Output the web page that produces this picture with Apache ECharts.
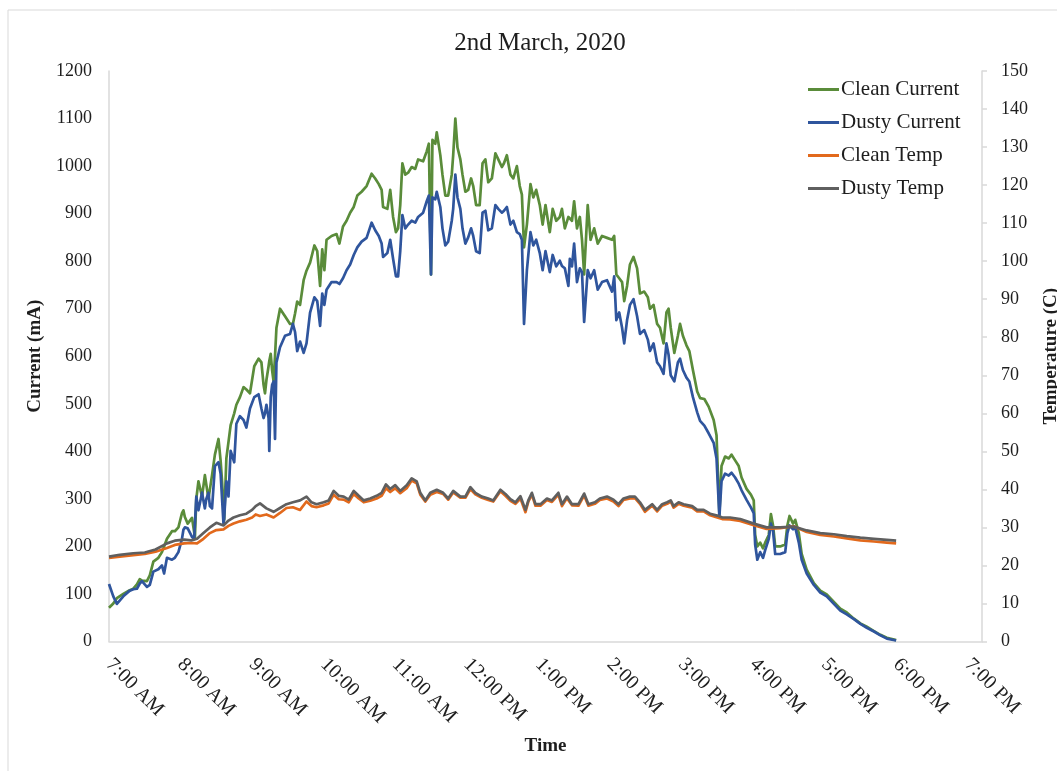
<!DOCTYPE html>
<html>
<head>
<meta charset="utf-8">
<title>2nd March, 2020</title>
<script src="https://cdn.jsdelivr.net/npm/echarts@6/dist/echarts.min.js"></script>
<style>
  html, body { margin: 0; padding: 0; background: #ffffff; overflow: hidden; }
  #chart { width: 1057px; height: 771px; }
</style>
</head>
<body>
<div id="chart"></div>
<script>
// Sample times (decimal hours) for the two current traces
const currentHours = [
  7.00, 7.06, 7.11, 7.20, 7.29, 7.34, 7.39, 7.43, 7.46, 7.53, 7.57, 7.62, 7.69, 7.74, 7.77, 7.81, 7.88, 7.92, 7.97,
  8.02, 8.04, 8.06, 8.10, 8.16, 8.19, 8.20, 8.22, 8.25, 8.30, 8.34, 8.36, 8.39, 8.41, 8.44, 8.48, 8.53, 8.56, 8.58,
  8.60, 8.61, 8.64, 8.67, 8.70, 8.75, 8.78, 8.83, 8.88, 8.92, 8.97, 9.03, 9.09, 9.13, 9.16, 9.18, 9.20, 9.23, 9.24,
  9.26, 9.28, 9.30, 9.32, 9.34, 9.39, 9.46, 9.53, 9.57, 9.60, 9.63, 9.67, 9.72, 9.76, 9.81, 9.87, 9.91, 9.95, 9.98,
  10.01, 10.04, 10.11, 10.18, 10.22, 10.27, 10.32, 10.37, 10.42, 10.47, 10.53, 10.60, 10.67, 10.72, 10.77, 10.81,
  10.83, 10.89, 10.93, 10.97, 11.01, 11.04, 11.07, 11.10, 11.14, 11.18, 11.23, 11.28, 11.32, 11.39, 11.44, 11.47,
  11.50, 11.52, 11.56, 11.58, 11.63, 11.66, 11.70, 11.74, 11.79, 11.81, 11.84, 11.87, 11.91, 11.94, 11.98, 12.02,
  12.06, 12.09, 12.13, 12.18, 12.22, 12.26, 12.30, 12.35, 12.40, 12.44, 12.49, 12.52, 12.56, 12.61, 12.65, 12.70,
  12.74, 12.77, 12.80, 12.84, 12.89, 12.93, 12.97, 13.02, 13.06, 13.10, 13.16, 13.20, 13.25, 13.30, 13.33, 13.37,
  13.42, 13.44, 13.47, 13.50, 13.54, 13.58, 13.61, 13.64, 13.69, 13.73, 13.78, 13.83, 13.89, 13.96, 14.03, 14.06,
  14.09, 14.13, 14.17, 14.20, 14.24, 14.28, 14.33, 14.38, 14.42, 14.48, 14.53, 14.56, 14.61, 14.66, 14.70, 14.75,
  14.79, 14.82, 14.85, 14.90, 14.95, 14.98, 15.02, 15.07, 15.11, 15.16, 15.22, 15.26, 15.32, 15.38, 15.45, 15.49,
  15.53, 15.56, 15.61, 15.66, 15.70, 15.75, 15.80, 15.84, 15.91, 15.97, 16.01, 16.03, 16.06, 16.10, 16.14, 16.17,
  16.22, 16.25, 16.28, 16.31, 16.38, 16.45, 16.48, 16.51, 16.56, 16.59, 16.64, 16.68, 16.75, 16.85, 16.94, 17.03,
  17.13, 17.22, 17.31, 17.41, 17.50, 17.59, 17.69, 17.78, 17.87, 18.00
];

// Clean panel current (mA)
const cleanCurrent = [
  71, 80, 91, 100, 108, 111, 120, 131, 128, 127, 139, 168, 176, 188, 200, 216, 232, 232, 240,
  270, 276, 262, 248, 260, 230, 216, 300, 337, 305, 350, 353, 300, 297, 350, 393, 426, 380, 337,
  280, 256, 385, 420, 455, 480, 498, 514, 535, 530, 522, 579, 595, 587, 540, 522, 550, 579, 590,
  605, 570, 547, 600, 660, 700, 684, 668, 668, 690, 715, 708, 760, 780, 797, 833, 821, 748, 825,
  781, 845, 853, 857, 837, 873, 885, 902, 914, 938, 946, 958, 984, 974, 962, 950,
  914, 910, 950, 893, 861, 869, 918, 1006, 982, 986, 998, 994, 1014, 1010, 1031, 1047,
  772, 1055, 1047, 1071, 1023, 982, 938, 938, 982, 1023, 1100, 1039, 1014, 982, 946, 950,
  974, 958, 918, 918, 1006, 1014, 966, 974, 1027, 1014, 998, 1006, 1023, 982, 974, 1000,
  958, 940, 829, 877, 962, 934, 950, 918, 877, 918, 861, 910, 885, 893, 910, 869,
  893, 890, 885, 926, 869, 893, 845, 772, 918, 845, 869, 837, 853, 849, 845, 853,
  772, 764, 756, 716, 748, 793, 809, 785, 732, 736, 724, 700, 708, 668, 660, 627,
  692, 700, 660, 607, 643, 668, 643, 623, 611, 571, 526, 512, 510, 494, 466, 434,
  268, 369, 389, 385, 393, 381, 369, 345, 321, 309, 297, 224, 200, 208, 196, 208,
  224, 268, 244, 200, 200, 204, 244, 264, 248, 256, 228, 184, 151, 123, 107, 99,
  83, 69, 61, 48, 38, 31, 22, 14, 8, 3
];

// Dusty panel current (mA)
const dustyCurrent = [
  121, 95, 79, 95, 107, 110, 111, 122, 127, 115, 119, 147, 152, 160, 143, 176, 172, 176, 188,
  216, 235, 240, 238, 220, 216, 214, 305, 276, 313, 280, 300, 313, 285, 280, 369, 377, 353, 300,
  248, 260, 337, 305, 401, 377, 458, 474, 466, 450, 490, 514, 520, 490, 470, 480, 498, 470, 401,
  514, 540, 547, 426, 587, 619, 643, 647, 668, 651, 611, 631, 607, 627, 692, 724, 716, 664, 732,
  708, 740, 756, 756, 752, 764, 781, 793, 813, 829, 841, 849, 881, 865, 853, 837,
  809, 817, 845, 805, 768, 768, 821, 897, 869, 877, 885, 881, 893, 902, 926, 938,
  772, 934, 930, 946, 914, 869, 833, 841, 885, 910, 982, 934, 910, 869, 837, 850,
  869, 853, 821, 817, 902, 906, 865, 869, 918, 910, 902, 906, 914, 877, 885, 861,
  857, 845, 668, 781, 861, 833, 845, 817, 781, 821, 777, 813, 789, 801, 790, 785,
  748, 805, 789, 837, 756, 785, 777, 672, 781, 764, 781, 740, 756, 760, 736, 768,
  676, 692, 660, 627, 676, 708, 720, 684, 647, 655, 635, 611, 627, 587, 579, 563,
  627, 603, 560, 547, 587, 595, 571, 555, 547, 514, 482, 464, 454, 438, 418, 385,
  262, 337, 353, 349, 355, 345, 332, 318, 298, 282, 270, 204, 172, 188, 176, 192,
  216, 248, 232, 184, 184, 188, 228, 244, 236, 240, 208, 172, 143, 119, 103, 95,
  79, 65, 57, 47, 37, 29, 21, 13, 6, 2
];

// Sample times (decimal hours) for the two temperature traces
const tempHours = [
  7.00, 7.15, 7.34, 7.50, 7.65, 7.81, 7.92, 8.05, 8.15, 8.23, 8.32, 8.41, 8.50, 8.60, 8.67, 8.74, 8.83, 8.92,
  9.00, 9.05, 9.11, 9.20, 9.30, 9.39, 9.48, 9.57, 9.67, 9.76, 9.83, 9.90, 10.00, 10.07, 10.14, 10.21, 10.28,
  10.35, 10.42, 10.49, 10.56, 10.65, 10.74, 10.81, 10.87, 10.93, 11.00, 11.07, 11.16, 11.23, 11.30, 11.35,
  11.42, 11.49, 11.58, 11.67, 11.74, 11.81, 11.91, 11.98, 12.05, 12.12, 12.21, 12.30, 12.37, 12.47, 12.54,
  12.61, 12.68, 12.75, 12.82, 12.86, 12.91, 12.96, 13.03, 13.12, 13.19, 13.28, 13.33, 13.40, 13.47, 13.56,
  13.64, 13.70, 13.79, 13.86, 13.96, 14.05, 14.12, 14.19, 14.28, 14.35, 14.42, 14.49, 14.59, 14.66, 14.73,
  14.80, 14.85, 14.89, 14.96, 15.03, 15.15, 15.22, 15.31, 15.40, 15.50, 15.57, 15.68, 15.82, 16.01, 16.19,
  16.38, 16.57, 16.75, 16.94, 17.13, 17.31, 17.50, 17.69, 17.87, 18.00
];

// Clean panel temperature (C)
const cleanTemp = [
  22.0, 22.3, 22.7, 23.0, 23.6, 24.6, 25.4, 25.8, 25.9, 25.8, 27.0, 28.5, 29.3, 29.5, 30.4, 31.0, 31.6, 32.0,
  32.6, 33.4, 33.0, 33.4, 32.6, 33.8, 35.1, 35.3, 34.6, 36.8, 35.6, 35.3, 35.8, 36.3, 38.6, 37.4, 37.3,
  36.6, 38.8, 37.6, 36.6, 37.0, 37.6, 38.3, 40.3, 39.3, 40.3, 39.0, 40.3, 42.3, 41.6, 38.6,
  36.8, 38.6, 39.3, 38.8, 37.3, 39.2, 37.8, 37.8, 40.1, 38.7, 37.8, 37.2, 36.8, 39.5, 38.3,
  37.0, 36.2, 37.6, 34.0, 36.8, 38.6, 35.7, 35.7, 37.2, 36.7, 38.6, 35.6, 37.7, 35.8, 35.7,
  38.4, 35.7, 36.2, 37.2, 37.6, 36.8, 35.6, 37.2, 37.6, 37.7, 36.2, 34.1, 35.7, 34.2, 35.7,
  36.2, 36.8, 35.2, 36.2, 35.7, 35.2, 34.2, 34.2, 33.2, 32.6, 32.2, 32.1, 31.7, 30.6, 29.6,
  29.8, 30.3, 28.8, 28.0, 27.6, 27.1, 26.6, 26.3, 26.0, 25.8
];

// Dusty panel temperature (C)
const dustyTemp = [
  22.3, 22.8, 23.2, 23.4, 24.2, 25.8, 26.5, 26.8, 26.6, 27.0, 28.5, 30.0, 31.2, 30.5, 31.8, 32.6, 33.2, 33.6,
  34.6, 35.6, 36.3, 35.0, 34.1, 35.1, 36.1, 36.6, 37.1, 38.1, 36.6, 36.1, 36.6, 37.1, 39.6, 38.3, 38.1,
  37.3, 39.6, 38.3, 37.1, 37.6, 38.3, 39.1, 41.3, 40.1, 41.1, 39.6, 41.1, 42.9, 42.1, 39.1,
  37.1, 39.1, 39.9, 39.1, 37.6, 39.6, 38.1, 38.1, 40.6, 39.1, 38.1, 37.6, 37.1, 39.9, 38.8,
  37.4, 36.6, 38.2, 34.6, 37.1, 39.1, 36.1, 36.1, 37.6, 37.1, 39.1, 36.1, 38.1, 36.1, 36.1,
  38.9, 36.1, 36.6, 37.6, 38.1, 37.3, 36.1, 37.6, 38.1, 38.1, 36.6, 34.6, 36.1, 34.6, 36.1,
  36.6, 37.1, 35.6, 36.6, 36.1, 35.6, 34.6, 34.6, 33.6, 33.1, 32.6, 32.6, 32.2, 31.0, 30.0,
  30.0, 30.2, 29.2, 28.5, 28.2, 27.7, 27.3, 27.0, 26.7, 26.5
];

// Hour marks on the time axis
const hourTicks = [7, 8, 9, 10, 11, 12, 13, 14, 15, 16, 17, 18, 19];

const seriesNames = ['Clean Current', 'Dusty Current', 'Clean Temp', 'Dusty Temp'];
const seriesColors = ['#5a8c3a', '#2f559d', '#e2691c', '#5f5f5f'];

function pairs(hours, values) {
  return hours.map((h, i) => [h, values[i]]);
}

function hourLabel(h) {
  if (hourTicks.indexOf(h) < 0) return '';
  const h12 = ((h + 11) % 12) + 1;
  return h12 + ':00 ' + (h < 12 ? 'AM' : 'PM');
}

const serif = '"Liberation Serif", "DejaVu Serif", serif';
const axisGray = '#d9d9d9';
const textColor = '#1e1e1e';

const chart = echarts.init(document.getElementById('chart'), null, { renderer: 'canvas' });

const lineSeries = (name, idx, data, yAxisIndex) => ({
  name: name,
  type: 'line',
  yAxisIndex: yAxisIndex,
  data: data,
  showSymbol: false,
  symbol: 'none',
  smooth: false,
  animation: false,
  lineStyle: { width: 2.7, color: seriesColors[idx], join: 'round' },
  itemStyle: { color: seriesColors[idx] },
  emphasis: { disabled: true }
});

chart.setOption({
  backgroundColor: '#ffffff',
  animation: false,
  graphic: [{
    type: 'rect',
    shape: { x: 8, y: 10, width: 1070, height: 800 },
    style: { fill: 'none', stroke: axisGray, lineWidth: 1 },
    silent: true,
    z: -10
  }],
  title: {
    text: '2nd March, 2020',
    left: 535,
    top: 26,
    textAlign: 'center',
    textStyle: { fontFamily: serif, fontSize: 25, fontWeight: 'normal', color: textColor }
  },
  legend: {
    data: seriesNames,
    orient: 'vertical',
    left: 803,
    top: 74,
    itemWidth: 31,
    itemHeight: 3,
    itemGap: 12,
    icon: 'rect',
    textStyle: { fontFamily: serif, fontSize: 21, color: textColor, padding: [0, 0, 0, -3] }
  },
  grid: { left: 109, right: 75, top: 71, bottom: 129.5, containLabel: false, outerBoundsMode: 'none' },
  xAxis: {
    type: 'value',
    min: 7,
    max: 19.2,
    interval: 1,
    name: 'Time',
    nameLocation: 'middle',
    nameGap: 95,
    nameTextStyle: { fontFamily: serif, fontSize: 19, fontWeight: 'bold', color: textColor },
    axisLine: { show: true, lineStyle: { color: axisGray, width: 1.5 } },
    axisTick: { show: false },
    splitLine: { show: false },
    axisLabel: {
      rotate: -45,
      margin: 20,
      showMaxLabel: false,
      fontFamily: serif,
      fontSize: 20,
      color: textColor,
      formatter: hourLabel
    }
  },
  yAxis: [{
    type: 'value',
    min: 0,
    max: 1200,
    interval: 100,
    name: 'Current (mA)',
    nameLocation: 'middle',
    nameRotate: 90,
    nameGap: 64,
    nameTextStyle: { fontFamily: serif, fontSize: 19, fontWeight: 'bold', color: textColor },
    axisLine: { show: true, lineStyle: { color: axisGray, width: 1.5 } },
    axisTick: { show: false },
    splitLine: { show: false },
    axisLabel: { margin: 17, fontFamily: serif, fontSize: 18, color: textColor, formatter: v => String(v) }
  }, {
    type: 'value',
    position: 'right',
    min: 0,
    max: 150,
    interval: 10,
    name: 'Temperature (C)',
    nameLocation: 'middle',
    nameRotate: 90,
    nameGap: 60,
    nameTextStyle: { fontFamily: serif, fontSize: 19, fontWeight: 'bold', color: textColor },
    axisLine: { show: true, lineStyle: { color: axisGray, width: 1.5 } },
    axisTick: { show: true, inside: false, length: 5, lineStyle: { color: axisGray, width: 1.5 } },
    splitLine: { show: false },
    axisLabel: { margin: 19, fontFamily: serif, fontSize: 18, color: textColor, formatter: v => String(v) }
  }],
  series: [
    lineSeries(seriesNames[0], 0, pairs(currentHours, cleanCurrent), 0),
    lineSeries(seriesNames[1], 1, pairs(currentHours, dustyCurrent), 0),
    lineSeries(seriesNames[2], 2, pairs(tempHours, cleanTemp), 1),
    lineSeries(seriesNames[3], 3, pairs(tempHours, dustyTemp), 1)
  ]
});
</script>
</body>
</html>
